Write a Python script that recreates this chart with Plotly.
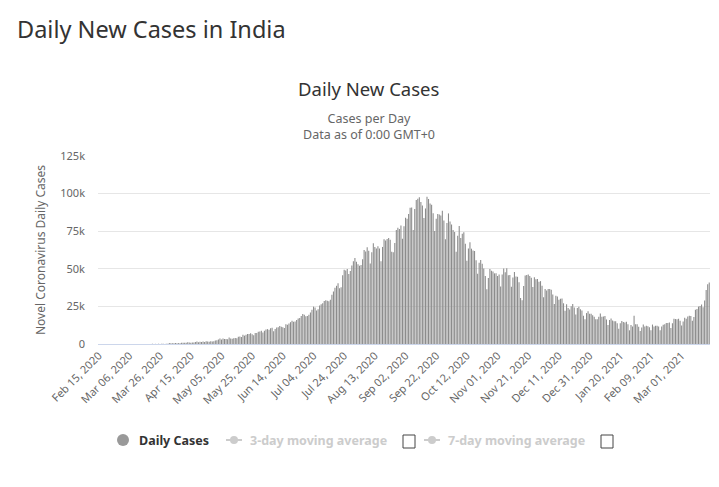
import pandas as pd
import plotly.graph_objects as go

# ---------------- data (daily new cases, India) ----------------
start_date = "2020-02-15"
feb_2020 = [0, 0, 0, 0, 0, 0, 0, 0, 0, 0, 0, 0, 0, 0, 0]
mar_2020 = [0, 2, 1, 22, 2, 1, 3, 5, 4, 13, 6, 11, 10, 20, 11, 6, 23, 14, 38, 50,
            86, 66, 103, 37, 121, 70, 160, 100, 82, 227, 146]
apr_2020 = [601, 545, 478, 579, 609, 484, 573, 565, 813, 871, 854, 758, 1243, 1031, 886,
            1061, 922, 1371, 1580, 1239, 1537, 1292, 1667, 1408, 1835, 1607, 1561, 1873, 1738, 1801]
may_2020 = [2396, 2564, 2952, 3656, 2971, 3587, 3364, 3344, 3113, 4353, 3607, 3524, 3763, 3942,
            3787, 4864, 5050, 4630, 6147, 5553, 6198, 6568, 6629, 7113, 6414, 5843, 7293, 7300,
            8105, 8380, 8789]
jun_2020 = [7723, 8821, 9633, 9889, 9471, 10438, 10864, 8442, 9985, 10956,
            11156, 11929, 11502, 11135, 10667, 13103, 12881, 13586, 14516, 15413,
            14821, 14933, 15968, 16922, 17296, 18552, 19906, 19459, 18522, 18653]
jul_2020 = [19428, 20903, 22771, 24850, 24248, 22252, 23135, 25571, 26506, 27114,
            28637, 29108, 28701, 28498, 29429, 32682, 34956, 37407, 38697, 40425,
            37132, 37740, 45720, 49310, 48916, 49931, 46484, 48513, 52123, 55078, 57117]
aug_2020 = [54735, 52972, 52050, 52509, 56282, 62538, 61537, 64399, 62064, 53601,
            60963, 66999, 64553, 63490, 65002, 63489, 55079, 64531, 69652, 68898,
            69878, 70488, 69239, 61408, 60975, 67151, 75760, 77266, 76472, 78761, 69921]
sep_2020 = [78357, 83883, 83341, 86432, 90632, 90802, 75809, 89706, 95735, 96551,
            97570, 94372, 92071, 83809, 90123, 97894, 96424, 93337, 92605, 86961,
            75083, 83347, 86508, 86052, 85362, 88600, 82170, 69671, 80472, 86821]
oct_2020 = [81484, 79476, 75829, 74442, 61267, 72049, 78524, 70496, 73272, 74383,
            66732, 55342, 63509, 67708, 63371, 62212, 61871, 55722, 46790, 54044,
            55839, 53370, 50129, 45149, 36470, 43893, 49881, 48648, 48268, 46963, 46964]
nov_2020 = [45231, 46254, 38310, 46253, 50210, 47638, 50357, 45674, 45903, 38074,
            44281, 47905, 44879, 44684, 41100, 30548, 29164, 38617, 45576, 45882,
            46232, 45209, 44059, 37975, 44376, 43082, 43174, 41322, 41810, 38772]
dec_2020 = [31118, 36604, 35551, 36594, 36652, 36011, 32981, 26567, 32080, 31522,
            29398, 30006, 30254, 27071, 22065, 26382, 24010, 22890, 25152, 26624,
            24337, 19556, 23950, 24712, 23067, 22273, 18732, 16432, 20550, 21822, 20035]
jan_2021 = [20036, 19079, 18177, 16505, 16375, 18088, 20346, 18139, 18222, 18645,
            16311, 12584, 15968, 16946, 15590, 15158, 15144, 13788, 10064, 13823,
            15223, 14545, 14256, 14849, 13203, 9102, 12689, 11666, 18855, 13083, 13052]
feb_2021 = [11427, 8635, 11039, 12899, 11713, 12059, 11831, 11067, 9110, 12923,
            11610, 12143, 12194, 11649, 9121, 11610, 12881, 13193, 13993, 13993,
            14264, 10584, 13742, 16738, 16577, 16488, 16752, 15510]
mar_2021 = [12286, 14989, 17407, 16838, 18327, 18711, 18599, 15388, 17921, 22854,
            23285, 24882, 25320, 26291, 24492, 28903, 35871, 39726, 40953]

daily_cases = (feb_2020 + mar_2020 + apr_2020 + may_2020 + jun_2020 + jul_2020 + aug_2020 +
               sep_2020 + oct_2020 + nov_2020 + dec_2020 + jan_2021 + feb_2021 + mar_2021)

tick_labels = ["Feb 15, 2020", "Mar 06, 2020", "Mar 26, 2020", "Apr 15, 2020", "May 05, 2020",
               "May 25, 2020", "Jun 14, 2020", "Jul 04, 2020", "Jul 24, 2020", "Aug 13, 2020",
               "Sep 02, 2020", "Sep 22, 2020", "Oct 12, 2020", "Nov 01, 2020", "Nov 21, 2020",
               "Dec 11, 2020", "Dec 31, 2020", "Jan 20, 2021", "Feb 09, 2021", "Mar 01, 2021"]
y_tick_values = [0, 25000, 50000, 75000, 100000, 125000]
y_tick_labels = ["0", "25k", "50k", "75k", "100k", "125k"]

# ---------------- figure ----------------
W, H = 719, 487
OFF = 8  # page body margin offset
L, R, T, B = 98 - OFF, 710 - OFF, 156 - OFF, 344 - OFF
FONT = "Noto Sans, Open Sans, sans-serif"

def px(xp):
    return (xp - OFF - L) / (R - L)

def py(yp):
    return (B - (yp - OFF)) / (B - T)

dates = pd.date_range(start_date, periods=len(daily_cases), freq="D")
tickvals = pd.to_datetime(tick_labels, format="%b %d, %Y")

fig = go.Figure()
fig.add_trace(go.Bar(x=dates, y=daily_cases, name="Daily Cases",
                     marker=dict(color="rgba(140,140,140,0.999)", line=dict(width=0)),
                     showlegend=False))

fig.update_layout(
    width=W, height=H,
    margin=dict(l=L, r=W - R, t=T, b=H - B, pad=0),
    paper_bgcolor="white", plot_bgcolor="white",
    font=dict(family=FONT, color="#666666"),
    bargap=0.3,
    title=dict(text="Daily New Cases in India", x=(17 - OFF) / W, xanchor="left",
               xref="container", y=1 - (30 - OFF) / H, yref="container", yanchor="middle",
               font=dict(size=23.5, color="#333333", family=FONT)),
    xaxis=dict(type="date",
               range=[dates[0] - pd.Timedelta(hours=12), dates[-1] + pd.Timedelta(hours=12)],
               tickvals=tickvals, ticktext=tick_labels, tickangle=-45,
               tickfont=dict(size=11, color="#666666"),
               showgrid=False, zeroline=False, showline=True, linecolor="#ccd6eb",
               linewidth=1, ticks=""),
    yaxis=dict(range=[0, 125000], tickvals=y_tick_values, ticktext=y_tick_labels,
               tickfont=dict(size=11, color="#666666"), ticklabelstandoff=12,
               gridcolor="#e6e6e6", gridwidth=1, zeroline=False, showline=False, ticks="",
               title=dict(text="Novel Coronavirus Daily Cases", standoff=12,
                          font=dict(size=12, color="#666666"))),
)

annotations = [
    dict(text="Daily New Cases", x=px(369), y=py(89), font=dict(size=18.5, color="#333333")),
    dict(text="Cases per Day<br>Data as of 0:00 GMT+0", x=px(369), y=py(126),
         font=dict(size=12.5, color="#666666")),
    dict(text="<b>Daily Cases</b>", x=px(137), y=py(440), xanchor="left",
         font=dict(size=12.5, color="#333333")),
    dict(text="<b>3-day moving average</b>", x=px(248), y=py(440), xanchor="left",
         font=dict(size=12.5, color="#cccccc")),
    dict(text="<b>7-day moving average</b>", x=px(446), y=py(440), xanchor="left",
         font=dict(size=12.5, color="#cccccc")),
]
for a in annotations:
    a.setdefault("xanchor", "center")
    a.update(xref="paper", yref="paper", yanchor="middle", showarrow=False)
fig.update_layout(annotations=annotations)

shapes = [
    dict(type="circle", x0=px(117), x1=px(129), y0=py(446), y1=py(434),
         fillcolor="#999999", line=dict(width=0)),
]
for x0 in (226, 424):
    shapes.append(dict(type="line", x0=px(x0), x1=px(x0 + 16), y0=py(440), y1=py(440),
                       line=dict(color="#cccccc", width=2)))
    shapes.append(dict(type="circle", x0=px(x0 + 4), x1=px(x0 + 12), y0=py(444), y1=py(436),
                       fillcolor="#cccccc", line=dict(width=0)))
for x0 in (403, 601):
    shapes.append(dict(type="rect", x0=px(x0), x1=px(x0 + 12), y0=py(448), y1=py(435),
                       fillcolor="white", line=dict(color="#444444", width=1)))
for s in shapes:
    s.update(xref="paper", yref="paper", layer="above")
fig.update_layout(shapes=shapes)

fig.write_html("out.html")
